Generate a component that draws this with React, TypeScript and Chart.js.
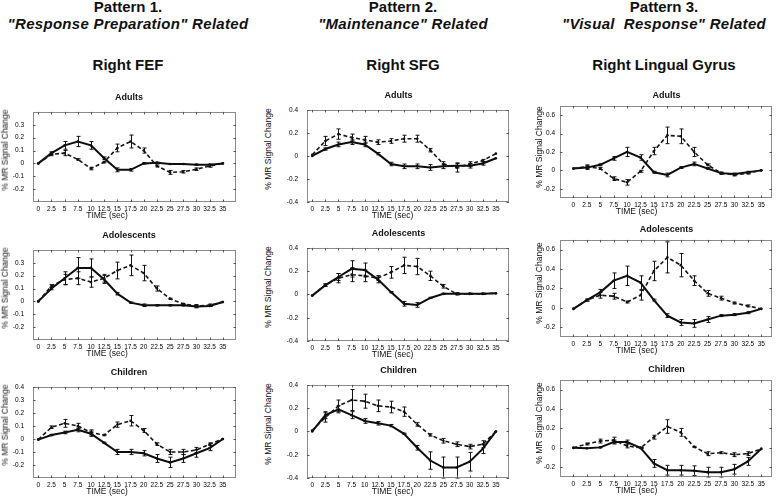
import React, { useEffect, useRef } from "react";
import { Chart, registerables } from "chart.js";

Chart.register(...registerables);

// ---------- data ----------
const TIMES = [0, 2.5, 5, 7.5, 10, 12.5, 15, 17.5, 20, 22.5, 25, 27.5, 30, 32.5, 35];
const X_TICK_LABELS = ["0", "2.5", "5", "7.5", "10", "12.5", "15", "17.5", "20", "22.5", "25", "27.5", "30", "32.5", "35"];

const Y_TICKS_FEF = [-0.2, -0.1, 0, 0.1, 0.2, 0.3];
const Y_TICKS_FEF_CHILD = [-0.2, -0.1, 0, 0.1, 0.2, 0.3, 0.4];
const Y_TICKS_SFG = [-0.4, -0.2, 0, 0.2, 0.4];
const Y_TICKS_LING = [-0.2, 0, 0.2, 0.4, 0.6];

const COL_PATTERNS = ["Pattern 1.", "Pattern 2.", "Pattern 3."];
const COL_RELATED = ['"Response Preparation" Related', '"Maintenance" Related', '"Visual  Response" Related'];
const COL_REGIONS = ["Right FEF", "Right SFG", "Right Lingual Gyrus"];
const ROW_GROUPS = ["Adults", "Adolescents", "Children"];
const X_TITLE = "TIME (sec)";
const Y_TITLE = "% MR Signal Change";

// Adults
const fefAdultsSolid = [0, 0.08, 0.14, 0.17, 0.14, 0.04, -0.05, -0.05, 0, 0.005, -0.005, -0.005, -0.01, -0.01, 0];
const fefAdultsSolidErr = [0, 0.01, 0.03, 0.04, 0.03, 0.01, 0.015, 0.01, 0.005, 0.005, 0.004, 0.004, 0.004, 0.004, 0];
const fefAdultsDashed = [0, 0.07, 0.08, 0.03, -0.04, 0.01, 0.12, 0.17, 0.1, -0.02, -0.07, -0.065, -0.045, -0.02, 0];
const fefAdultsDashedErr = [0, 0.01, 0.02, 0.006, 0.01, 0.006, 0.03, 0.05, 0.02, 0.008, 0.015, 0.01, 0.01, 0.01, 0];

const sfgAdultsSolid = [0, 0.06, 0.1, 0.12, 0.1, 0.02, -0.07, -0.09, -0.09, -0.1, -0.09, -0.085, -0.085, -0.065, -0.02];
const sfgAdultsSolidErr = [0, 0.01, 0.02, 0.02, 0.02, 0.01, 0.015, 0.02, 0.02, 0.025, 0.02, 0.02, 0.02, 0.015, 0];
const sfgAdultsDashed = [0.01, 0.13, 0.19, 0.16, 0.14, 0.12, 0.13, 0.15, 0.15, 0.05, -0.07, -0.1, -0.07, -0.04, 0.02];
const sfgAdultsDashedErr = [0, 0.04, 0.045, 0.03, 0.03, 0.02, 0.02, 0.03, 0.03, 0.015, 0.02, 0.04, 0.02, 0.01, 0];

const lingAdultsSolid = [0.02, 0.03, 0.06, 0.13, 0.2, 0.14, -0.02, -0.05, 0.03, 0.07, 0.02, -0.03, -0.04, -0.02, 0];
const lingAdultsSolidErr = [0, 0.02, 0.01, 0.02, 0.05, 0.03, 0.01, 0.02, 0.01, 0.02, 0.01, 0.01, 0.01, 0.01, 0];
const lingAdultsDashed = [0.02, 0.04, 0.02, -0.09, -0.13, -0.01, 0.21, 0.38, 0.37, 0.2, 0.06, -0.03, -0.05, -0.03, 0];
const lingAdultsDashedErr = [0, 0.02, 0.01, 0.02, 0.03, 0.01, 0.04, 0.09, 0.08, 0.05, 0.01, 0.01, 0.01, 0.01, 0];

// Adolescents
const fefAdolSolid = [0, 0.1, 0.18, 0.26, 0.26, 0.17, 0.06, -0.01, -0.03, -0.03, -0.03, -0.03, -0.04, -0.035, -0.005];
const fefAdolSolidErr = [0, 0.01, 0.05, 0.08, 0.07, 0.03, 0.01, 0.005, 0.01, 0.005, 0.005, 0.005, 0.01, 0.005, 0];
const fefAdolDashed = [0, 0.12, 0.17, 0.18, 0.15, 0.18, 0.24, 0.28, 0.22, 0.1, 0.02, -0.02, -0.035, -0.03, -0.005];
const fefAdolDashedErr = [0, 0.01, 0.04, 0.05, 0.04, 0.03, 0.065, 0.08, 0.06, 0.02, 0.005, 0.005, 0.01, 0.01, 0];

const sfgAdolSolid = [-0.01, 0.08, 0.15, 0.22, 0.21, 0.13, 0.02, -0.08, -0.09, -0.03, 0.005, 0.005, 0.005, 0.005, 0.01];
const sfgAdolSolidErr = [0, 0.01, 0.03, 0.07, 0.06, 0.03, 0.005, 0.02, 0.02, 0.005, 0.005, 0.005, 0.005, 0.005, 0];
const sfgAdolDashed = [-0.01, 0.08, 0.14, 0.17, 0.16, 0.14, 0.19, 0.25, 0.24, 0.16, 0.07, 0.005, 0.005, 0.005, 0.01];
const sfgAdolDashedErr = [0, 0.01, 0.04, 0.06, 0.05, 0.02, 0.05, 0.07, 0.07, 0.04, 0.015, 0.01, 0.005, 0.005, 0];

const lingAdolSolid = [-0.01, 0.08, 0.16, 0.28, 0.33, 0.26, 0.08, -0.08, -0.15, -0.16, -0.12, -0.08, -0.07, -0.05, -0.01];
const lingAdolSolidErr = [0, 0.01, 0.03, 0.08, 0.1, 0.07, 0.01, 0.02, 0.03, 0.04, 0.03, 0.01, 0.01, 0.01, 0];
const lingAdolDashed = [-0.01, 0.08, 0.13, 0.12, 0.06, 0.13, 0.38, 0.52, 0.44, 0.28, 0.15, 0.1, 0.05, 0.02, -0.01];
const lingAdolDashedErr = [0, 0.01, 0.03, 0.03, 0.01, 0.05, 0.1, 0.16, 0.12, 0.05, 0.03, 0.02, 0.01, 0.01, 0];

// Children
const fefChildSolid = [-0.005, 0.03, 0.05, 0.07, 0.04, -0.03, -0.1, -0.1, -0.11, -0.15, -0.18, -0.15, -0.11, -0.07, 0];
const fefChildSolidErr = [0, 0.005, 0.01, 0.015, 0.02, 0.005, 0.02, 0.02, 0.02, 0.03, 0.04, 0.03, 0.03, 0.02, 0];
const fefChildDashed = [-0.005, 0.09, 0.12, 0.1, 0.05, 0.03, 0.11, 0.14, 0.065, -0.04, -0.1, -0.1, -0.085, -0.04, 0];
const fefChildDashedErr = [0, 0.01, 0.03, 0.02, 0.02, 0.005, 0.02, 0.04, 0.015, 0.01, 0.02, 0.02, 0.02, 0.01, 0];

const sfgChildSolid = [0, 0.14, 0.19, 0.14, 0.09, 0.07, 0.05, -0.02, -0.14, -0.25, -0.31, -0.31, -0.26, -0.15, 0];
const sfgChildSolidErr = [0, 0.03, 0.03, 0.03, 0.02, 0.015, 0.01, 0.005, 0.02, 0.075, 0.09, 0.09, 0.08, 0.04, 0];
const sfgChildDashed = [0.01, 0.12, 0.22, 0.27, 0.26, 0.22, 0.21, 0.17, 0.06, -0.03, -0.08, -0.11, -0.13, -0.11, 0];
const sfgChildDashedErr = [0, 0.04, 0.05, 0.09, 0.06, 0.05, 0.05, 0.04, 0.015, 0.01, 0.02, 0.02, 0.02, 0.03, 0];

const lingChildSolid = [0, -0.005, 0.005, 0.06, 0.06, 0, -0.16, -0.23, -0.23, -0.235, -0.25, -0.25, -0.22, -0.14, -0.01];
const lingChildSolidErr = [0, 0, 0.005, 0.02, 0.02, 0.005, 0.04, 0.05, 0.05, 0.05, 0.05, 0.05, 0.05, 0.04, 0];
const lingChildDashed = [0, 0.04, 0.07, 0.08, 0.02, 0, 0.11, 0.22, 0.16, 0.01, -0.06, -0.05, -0.07, -0.06, -0.01];
const lingChildDashedErr = [0, 0.01, 0.02, 0.03, 0.02, 0.005, 0.02, 0.07, 0.04, 0.005, 0.02, 0.01, 0.02, 0.02, 0];

// ---------- layout ----------
const FONT = "'Liberation Sans', Arial, Helvetica, sans-serif";
const COL_BOX = [
  { l: 33, r: 237 },
  { l: 307, r: 510 },
  { l: 560, r: 773 },
];
const ROW_BOX = [
  [{ t: 105, b: 202 }, { t: 103, b: 202 }, { t: 103, b: 198 }],
  [{ t: 243, b: 340 }, { t: 241, b: 341 }, { t: 237, b: 337 }],
  [{ t: 380, b: 478 }, { t: 378, b: 478 }, { t: 377, b: 477 }],
];
const COL_XLIM = [[-1, 37.5], [-1, 37.5], [-2.5, 37]];
const COL_YLIM = [[-0.3, 0.4], [-0.4, 0.4], [-0.3, 0.7]];
const Y_TICKS = [
  [Y_TICKS_FEF, Y_TICKS_SFG, Y_TICKS_LING],
  [Y_TICKS_FEF, Y_TICKS_SFG, Y_TICKS_LING],
  [Y_TICKS_FEF_CHILD, Y_TICKS_SFG, Y_TICKS_LING],
];
const SERIES = [
  [
    [fefAdultsSolid, fefAdultsSolidErr, fefAdultsDashed, fefAdultsDashedErr],
    [sfgAdultsSolid, sfgAdultsSolidErr, sfgAdultsDashed, sfgAdultsDashedErr],
    [lingAdultsSolid, lingAdultsSolidErr, lingAdultsDashed, lingAdultsDashedErr],
  ],
  [
    [fefAdolSolid, fefAdolSolidErr, fefAdolDashed, fefAdolDashedErr],
    [sfgAdolSolid, sfgAdolSolidErr, sfgAdolDashed, sfgAdolDashedErr],
    [lingAdolSolid, lingAdolSolidErr, lingAdolDashed, lingAdolDashedErr],
  ],
  [
    [fefChildSolid, fefChildSolidErr, fefChildDashed, fefChildDashedErr],
    [sfgChildSolid, sfgChildSolidErr, sfgChildDashed, sfgChildDashedErr],
    [lingChildSolid, lingChildSolidErr, lingChildDashed, lingChildDashedErr],
  ],
];
const HEAD_CX = [128, 403, 664];
const TITLE_DX = [-6, -10, 0];
const XLABEL_DX = [-28, -16, -30];
const YTITLE_CX = [5, 268, 539];
const YTICK_PAD = [9, 9, 5];

const PAD_L = 32;
const PAD_T = 6;
const PAD_R = 3;
const PAD_B = 14;

const fmt = (v: number) => {
  const r = Math.round(v * 10) / 10;
  return r === 0 ? "0" : String(r);
};

const framePlugin = {
  id: "frameErr",
  afterDatasetsDraw(chart: any) {
    const { ctx, chartArea: a, scales } = chart;
    const xs = scales.x;
    const ys = scales.y;
    ctx.save();
    // error bars
    chart.data.datasets.forEach((ds: any) => {
      const errs: number[] = ds.errors;
      if (!errs) return;
      ctx.strokeStyle = "#111";
      ctx.lineWidth = 1;
      ctx.setLineDash([]);
      ds.data.forEach((p: any, j: number) => {
        const e = errs[j];
        if (!e) return;
        const x = Math.round(xs.getPixelForValue(p.x)) + 0.5;
        const y1 = ys.getPixelForValue(p.y - e);
        const y2 = ys.getPixelForValue(p.y + e);
        ctx.beginPath();
        ctx.moveTo(x, y1);
        ctx.lineTo(x, y2);
        ctx.moveTo(x - 2, y1);
        ctx.lineTo(x + 2, y1);
        ctx.moveTo(x - 2, y2);
        ctx.lineTo(x + 2, y2);
        ctx.stroke();
      });
    });
    // frame
    ctx.strokeStyle = "#8a8a8a";
    ctx.lineWidth = 1;
    ctx.strokeRect(Math.round(a.left) + 0.5, Math.round(a.top) + 0.5, Math.round(a.width) - 1, Math.round(a.height) - 1);
    // inward tick marks
    ctx.strokeStyle = "#555";
    const tl = 2.5;
    ctx.beginPath();
    xs.ticks.forEach((t: any) => {
      const x = Math.round(xs.getPixelForValue(t.value)) + 0.5;
      ctx.moveTo(x, a.bottom);
      ctx.lineTo(x, a.bottom - tl);
      ctx.moveTo(x, a.top);
      ctx.lineTo(x, a.top + tl);
    });
    ys.ticks.forEach((t: any) => {
      const y = Math.round(ys.getPixelForValue(t.value)) + 0.5;
      ctx.moveTo(a.left, y);
      ctx.lineTo(a.left + tl, y);
      ctx.moveTo(a.right, y);
      ctx.lineTo(a.right - tl, y);
    });
    ctx.stroke();
    ctx.restore();
  },
};

function Panel({ row, col }: { row: number; col: number }) {
  const ref = useRef<HTMLCanvasElement | null>(null);
  const cb = COL_BOX[col];
  const rb = ROW_BOX[row][col];
  const w = cb.r - cb.l + PAD_L + PAD_R;
  const h = rb.b - rb.t + PAD_T + PAD_B;
  useEffect(() => {
    const [solid, solidErr, dashed, dashedErr] = SERIES[row][col];
    const yt = Y_TICKS[row][col];
    const chart = new Chart(ref.current as HTMLCanvasElement, {
      type: "line",
      data: {
        datasets: [
          {
            data: TIMES.map((x, i) => ({ x, y: dashed[i] })),
            errors: dashedErr,
            borderColor: "#151515",
            borderWidth: 1.6,
            borderDash: [4, 2.5],
            pointRadius: 1.3,
            pointBackgroundColor: "#151515",
            pointBorderWidth: 0,
            tension: 0,
          } as any,
          {
            data: TIMES.map((x, i) => ({ x, y: solid[i] })),
            errors: solidErr,
            borderColor: "#0d0d0d",
            borderWidth: 2,
            pointRadius: 1.3,
            pointBackgroundColor: "#0d0d0d",
            pointBorderWidth: 0,
            tension: 0,
          } as any,
        ],
      },
      options: {
        animation: false,
        responsive: false,
        maintainAspectRatio: false,
        devicePixelRatio: 1,
        layout: { padding: { top: PAD_T, right: PAD_R, left: 0, bottom: 0 } },
        plugins: { legend: { display: false }, tooltip: { enabled: false }, title: { display: false } },
        scales: {
          x: {
            type: "linear",
            min: COL_XLIM[col][0],
            max: COL_XLIM[col][1],
            afterBuildTicks: (ax: any) => {
              ax.ticks = TIMES.map((v) => ({ value: v }));
            },
            afterFit: (s: any) => {
              s.height = PAD_B;
            },
            grid: { display: false, drawTicks: false },
            border: { display: false },
            ticks: {
              autoSkip: false,
              maxRotation: 0,
              minRotation: 0,
              padding: 3,
              color: "#000",
              font: { family: FONT, size: 6.5 },
              callback: (_v: any, i: number) => X_TICK_LABELS[i],
            },
          },
          y: {
            type: "linear",
            min: COL_YLIM[col][0],
            max: COL_YLIM[col][1],
            afterBuildTicks: (ax: any) => {
              ax.ticks = yt.map((v) => ({ value: v }));
            },
            afterFit: (s: any) => {
              s.width = PAD_L;
            },
            grid: { display: false, drawTicks: false },
            border: { display: false },
            ticks: {
              autoSkip: false,
              padding: YTICK_PAD[col],
              color: "#000",
              font: { family: FONT, size: 6.5 },
              callback: (v: any) => fmt(Number(v)),
            },
          },
        },
      } as any,
      plugins: [framePlugin],
    });
    return () => chart.destroy();
  }, [row, col]);
  return (
    <canvas
      ref={ref}
      width={w}
      height={h}
      style={{ position: "absolute", left: cb.l - PAD_L, top: rb.t - PAD_T, width: w, height: h, display: "block" }}
    />
  );
}

function Txt(props: {
  cx: number;
  baseline: number;
  size: number;
  bold?: boolean;
  italic?: boolean;
  spacing?: number;
  children: React.ReactNode;
}) {
  const { cx, baseline, size, bold, italic, spacing } = props;
  return (
    <div
      style={{
        position: "absolute",
        left: cx,
        top: baseline - 0.8465 * size,
        transform: "translateX(-50%)",
        fontFamily: FONT,
        fontSize: size,
        lineHeight: `${size}px`,
        fontWeight: bold ? "bold" : "normal",
        fontStyle: italic ? "italic" : "normal",
        letterSpacing: spacing ? `${spacing}px` : undefined,
        whiteSpace: "pre",
        color: "#111",
      }}
    >
      {props.children}
    </div>
  );
}

function VTxt({ cx, cy, size, children }: { cx: number; cy: number; size: number; children: React.ReactNode }) {
  return (
    <div
      style={{
        position: "absolute",
        left: cx,
        top: cy,
        transform: "translate(-50%, -50%) rotate(-90deg)",
        fontFamily: FONT,
        fontSize: size,
        lineHeight: `${size}px`,
        whiteSpace: "pre",
        color: "#111",
      }}
    >
      {children}
    </div>
  );
}

export default function App() {
  const items: React.ReactNode[] = [];
  for (let c = 0; c < 3; c++) {
    items.push(
      <Txt key={`p${c}`} cx={HEAD_CX[c]} baseline={12} size={15} bold>
        {COL_PATTERNS[c]}
      </Txt>
    );
    items.push(
      <Txt key={`r${c}`} cx={HEAD_CX[c]} baseline={29} size={15} bold italic spacing={0.3}>
        {COL_RELATED[c]}
      </Txt>
    );
    items.push(
      <Txt key={`g${c}`} cx={HEAD_CX[c]} baseline={70} size={15} bold>
        {COL_REGIONS[c]}
      </Txt>
    );
  }
  for (let r = 0; r < 3; r++) {
    for (let c = 0; c < 3; c++) {
      const cb = COL_BOX[c];
      const rb = ROW_BOX[r][c];
      const cxBox = (cb.l + cb.r) / 2;
      const cyBox = (rb.t + rb.b) / 2;
      items.push(<Panel key={`pn${r}${c}`} row={r} col={c} />);
      items.push(
        <Txt key={`t${r}${c}`} cx={cxBox + TITLE_DX[c]} baseline={rb.t - 4.5} size={9} bold>
          {ROW_GROUPS[r]}
        </Txt>
      );
      items.push(
        <Txt key={`x${r}${c}`} cx={cxBox + XLABEL_DX[c]} baseline={rb.b + 16} size={8.5}>
          {X_TITLE}
        </Txt>
      );
      items.push(
        <VTxt key={`y${r}${c}`} cx={YTITLE_CX[c]} cy={cyBox - 4} size={8.5}>
          {Y_TITLE}
        </VTxt>
      );
    }
  }
  return (
    <div style={{ position: "absolute", left: 0, top: 0, width: 776, height: 498, background: "#fff", overflow: "hidden" }}>
      {items}
    </div>
  );
}
